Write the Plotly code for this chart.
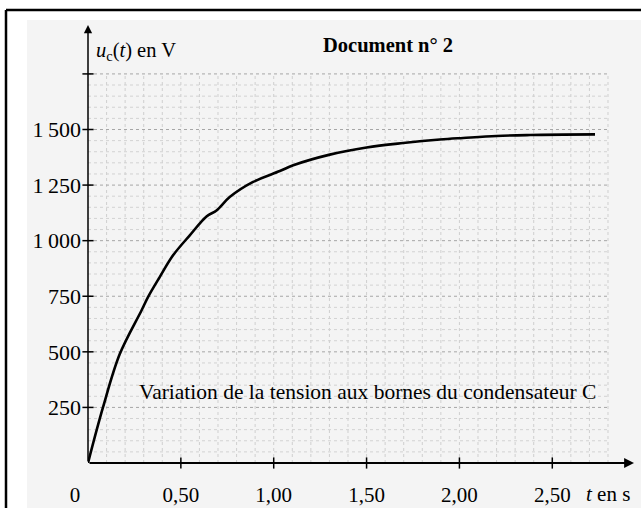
import plotly.graph_objects as go

# ---- data ----
t_s = [0, 0.081, 0.171, 0.288, 0.323, 0.386, 0.458, 0.548, 0.638, 0.692,
       0.763, 0.889, 1.033, 1.105, 1.302, 1.500, 1.697, 1.895, 2.02, 2.20, 2.38,
       2.56, 2.73]
u_V = [0, 251, 490, 686, 746, 836, 934, 1024, 1109, 1136,
       1196, 1264, 1313, 1339, 1387, 1419, 1439, 1455, 1462, 1471, 1475,
       1477, 1478]

x_tick_vals = [0, 0.5, 1.0, 1.5, 2.0, 2.5]
x_tick_text = ["0\u00a0\u00a0\u00a0\u00a0\u00a0", "0,50", "1,00", "1,50", "2,00", "2,50"]
y_tick_vals = [250, 500, 750, 1000, 1250, 1500, 1750]
y_tick_text = ["250", "500", "750", "1\u2009000", "1\u2009250", "1\u2009500", " "]
grid_t = [round(0.1 * i, 1) for i in range(1, 29)]
grid_u = [50 * i for i in range(1, 36)]

X_MAX, Y_MAX = 2.94, 1970
GRID_X_MAX, GRID_Y_MAX = 2.8, 1750

W, H = 641, 508
ML, MR, MT, MB = 88, 7, 25, 45
PW, PH = W - ML - MR, H - MT - MB


def px(p):
    return (p - ML) / PW


def py(p):
    return (H - MB - p) / PH


FONT = "Liberation Serif, Times New Roman, serif"

fig = go.Figure()

# grid (dotted)
shapes = []
for gx in grid_t:
    shapes.append(dict(type="line", xref="x", yref="y", x0=gx, x1=gx, y0=0, y1=GRID_Y_MAX,
                       line=dict(color="#cfcfcf", width=1, dash="dot"), layer="below"))
for gy in grid_u:
    major = gy % 250 == 0
    shapes.append(dict(type="line", xref="x", yref="y", x0=0, x1=GRID_X_MAX, y0=gy, y1=gy,
                       line=dict(color="#a6a6a6" if major else "#d2d2d2", width=1, dash="dot"),
                       layer="below"))

# background panel and border
bg = [
    dict(type="rect", xref="paper", yref="paper", x0=px(27), x1=px(W + 20), y0=py(H + 20), y1=py(20),
         fillcolor="#f4f4f4", line=dict(width=0), layer="below"),
    dict(type="line", xref="paper", yref="paper", x0=px(6), x1=px(W + 20), y0=py(10), y1=py(10),
         line=dict(color="black", width=2.5), layer="above"),
    dict(type="line", xref="paper", yref="paper", x0=px(6), x1=px(6), y0=py(10), y1=py(H + 20),
         line=dict(color="black", width=2.5), layer="above"),
]
fig.update_layout(shapes=bg + shapes)

# curve
fig.add_trace(go.Scatter(x=t_s, y=u_V, mode="lines",
                         line=dict(color="black", width=2.6, shape="spline", smoothing=1.0),
                         hoverinfo="skip", showlegend=False))

# tick marks crossing the axes
fig.add_trace(go.Scatter(x=x_tick_vals[1:], y=[0] * (len(x_tick_vals) - 1), mode="markers",
                         marker=dict(symbol="line-ns", size=8, line=dict(width=1.5, color="black")),
                         cliponaxis=False, hoverinfo="skip", showlegend=False))
fig.add_trace(go.Scatter(x=[0] * len(y_tick_vals), y=y_tick_vals, mode="markers",
                         marker=dict(symbol="line-ew", size=8, line=dict(width=1.5, color="black")),
                         cliponaxis=False, hoverinfo="skip", showlegend=False))

# axes with arrows
fig.add_annotation(x=X_MAX, y=0, ax=0, ay=0, xref="x", yref="y", axref="x", ayref="y",
                   text="", showarrow=True, arrowhead=2, arrowsize=1.1, arrowwidth=1.8,
                   arrowcolor="black")
fig.add_annotation(x=0, y=Y_MAX, ax=0, ay=0, xref="x", yref="y", axref="x", ayref="y",
                   text="", showarrow=True, arrowhead=2, arrowsize=1.1, arrowwidth=1.5,
                   arrowcolor="black")

# texts
fig.add_annotation(x=px(321), y=py(45), xref="paper", yref="paper", xanchor="left", yanchor="middle",
                   text="<b>Document n° 2</b>", showarrow=False,
                   font=dict(family=FONT, size=20.5, color="black"))
fig.add_annotation(x=px(94), y=py(51), xref="paper", yref="paper", xanchor="left", yanchor="middle",
                   text="<i>u</i><sub>c</sub>(<i>t</i>) en V", showarrow=False,
                   font=dict(family=FONT, size=20.5, color="black"))
fig.add_annotation(x=px(367), y=py(392), xref="paper", yref="paper", xanchor="center", yanchor="middle",
                   text="Variation de la tension aux bornes du condensateur C", showarrow=False,
                   font=dict(family=FONT, size=21.5, color="black"))
fig.add_annotation(x=px(608), y=py(494), xref="paper", yref="paper", xanchor="center", yanchor="middle",
                   text="<i>t</i> en s", showarrow=False,
                   font=dict(family=FONT, size=21, color="black"))

fig.update_layout(
    width=W, height=H,
    margin=dict(l=ML, r=MR, t=MT, b=MB, pad=0, autoexpand=False),
    paper_bgcolor="white", plot_bgcolor="rgba(0,0,0,0)",
    xaxis=dict(range=[0, X_MAX], showgrid=False, zeroline=False, showline=False, automargin=False,
               tickvals=x_tick_vals, ticktext=x_tick_text, ticks="", ticklabelstandoff=17,
               tickfont=dict(family=FONT, size=21, color="black"), fixedrange=True),
    yaxis=dict(range=[0, Y_MAX], showgrid=False, zeroline=False, showline=False, automargin=False,
               tickvals=y_tick_vals, ticktext=y_tick_text, ticks="", ticklabelstandoff=6,
               tickfont=dict(family=FONT, size=22, color="black"), fixedrange=True),
    showlegend=False,
)

fig.write_html("out.html", config={"displayModeBar": False, "staticPlot": True},
               post_script="document.body.style.margin='0';document.body.style.overflow='hidden';")
